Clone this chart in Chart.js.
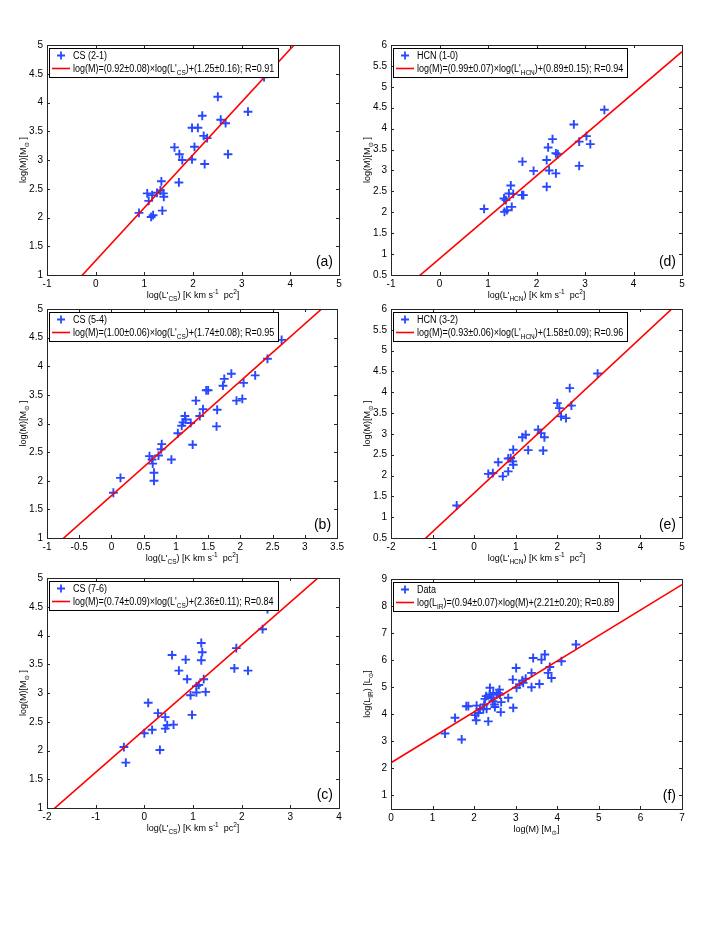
<!DOCTYPE html>
<html>
<head>
<meta charset="utf-8">
<title>Mass correlations</title>
<script src="https://cdn.jsdelivr.net/npm/chart.js@4.4.0/dist/chart.umd.min.js"></script>
<style>
  body { margin: 0; background: #ffffff; }
  #page { position: relative; width: 723px; height: 935px; overflow: hidden; background: #ffffff; }
  canvas { position: absolute; }
</style>
</head>
<body>
<div id="page"></div>
<script>
// ---- data ----

// (a) CS (2-1)
const cs21X = [0.89, 1.06, 1.09, 1.16, 1.14, 1.18, 1.26, 1.33, 1.35, 1.39, 1.40, 1.37, 1.71, 1.62, 1.72, 1.78, 1.98, 2.03, 1.98, 2.10, 2.19, 2.22, 2.29, 2.24, 2.51, 2.57, 2.67, 2.72, 3.13, 3.46];
const cs21Y = [2.08, 2.42, 2.29, 2.39, 2.01, 2.04, 2.43, 2.47, 2.63, 2.42, 2.36, 2.12, 2.61, 3.22, 3.10, 3.00, 3.01, 3.23, 3.56, 3.56, 3.77, 3.42, 3.38, 2.93, 4.10, 3.70, 3.64, 3.10, 3.84, 4.44];

// (d) HCN (1-0)
const hcn10X = [0.92, 1.33, 1.37, 1.34, 1.39, 1.43, 1.47, 1.49, 1.52, 1.70, 1.73, 1.71, 1.94, 2.21, 2.21, 2.24, 2.26, 2.33, 2.40, 2.44, 2.40, 2.77, 2.88, 2.88, 3.03, 3.11, 3.40];
const hcn10Y = [2.08, 2.33, 2.29, 2.01, 2.05, 2.45, 2.64, 2.13, 2.44, 2.41, 2.41, 3.21, 2.99, 2.61, 3.25, 3.55, 3.00, 3.75, 3.41, 3.39, 2.93, 4.10, 3.69, 3.11, 3.82, 3.63, 4.45];

// (b) CS (5-4)
const cs54X = [0.03, 0.14, 0.59, 0.63, 0.64, 0.66, 0.66, 0.73, 0.77, 0.78, 0.93, 1.03, 1.09, 1.11, 1.14, 1.15, 1.23, 1.26, 1.31, 1.37, 1.42, 1.47, 1.50, 1.64, 1.63, 1.73, 1.75, 1.86, 1.94, 2.03, 2.05, 2.23, 2.42, 2.64];
const cs54Y = [1.79, 2.05, 2.43, 2.37, 2.30, 2.14, 2.00, 2.44, 2.55, 2.64, 2.37, 2.83, 2.96, 3.02, 3.13, 3.07, 3.01, 2.63, 3.40, 3.13, 3.25, 3.58, 3.58, 3.24, 2.95, 3.66, 3.78, 3.87, 3.40, 3.43, 3.71, 3.84, 4.13, 4.46];

// (e) HCN (3-2)
const hcn32X = [-0.42, 0.34, 0.45, 0.58, 0.69, 0.82, 0.82, 0.88, 0.93, 0.94, 0.94, 1.16, 1.24, 1.30, 1.54, 1.61, 1.69, 1.66, 2.00, 2.05, 2.09, 2.21, 2.30, 2.34, 2.97];
const hcn32Y = [1.28, 2.04, 2.06, 2.32, 1.98, 2.10, 2.41, 2.42, 2.34, 2.26, 2.62, 2.92, 2.98, 2.61, 3.10, 3.02, 2.92, 2.60, 3.74, 3.62, 3.42, 3.38, 4.10, 3.68, 4.45];

// (c) CS (7-6)
const cs76X = [-0.42, -0.38, 0.00, 0.08, 0.16, 0.28, 0.32, 0.43, 0.43, 0.47, 0.60, 0.57, 0.71, 0.85, 0.88, 0.95, 0.98, 1.07, 1.07, 1.12, 1.17, 1.19, 1.17, 1.22, 1.26, 1.85, 1.89, 2.13, 2.43, 2.53];
const cs76Y = [2.06, 1.79, 2.30, 2.83, 2.36, 2.65, 2.01, 2.58, 2.38, 2.44, 2.45, 3.66, 3.39, 3.58, 3.24, 2.96, 2.62, 3.12, 3.01, 3.14, 3.87, 3.71, 3.57, 3.24, 3.02, 3.43, 3.78, 3.39, 4.11, 4.46];

// (f) mass vs infrared luminosity
const massX = [1.30, 1.70, 1.54, 1.81, 1.86, 2.02, 2.05, 2.06, 2.10, 2.14, 2.22, 2.24, 2.26, 2.30, 2.29, 2.34, 2.37, 2.38, 2.41, 2.45, 2.46, 2.49, 2.50, 2.54, 2.58, 2.61, 2.62, 2.65, 2.64, 2.82, 2.94, 2.93, 3.01, 3.02, 3.09, 3.16, 3.18, 3.24, 3.38, 3.38, 3.42, 3.57, 3.62, 3.70, 3.78, 3.82, 3.86, 4.10, 4.45];
const lirY  = [3.29, 3.07, 3.87, 4.30, 4.30, 3.97, 3.78, 4.32, 4.05, 4.20, 4.18, 4.36, 4.57, 4.20, 4.67, 3.74, 4.73, 4.98, 4.61, 4.48, 4.79, 4.36, 4.27, 4.73, 4.79, 4.91, 4.73, 4.45, 4.08, 4.61, 4.24, 5.28, 5.71, 4.98, 5.10, 5.25, 5.16, 5.32, 5.00, 5.53, 6.08, 5.12, 6.02, 6.21, 5.53, 5.75, 5.34, 5.96, 6.58];

// fit lines, in panel order a, d, b, e, c, f
const fitSlopes     = [0.92, 0.99, 1.00, 0.93, 0.74, 0.94];
const fitIntercepts = [1.25, 0.89, 1.74, 1.58, 2.36, 2.21];

// tick labels
const ticksA_x = [-1, 0, 1, 2, 3, 4, 5];
const ticksA_y = [1, 1.5, 2, 2.5, 3, 3.5, 4, 4.5, 5];
const ticksD_x = [-1, 0, 1, 2, 3, 4, 5];
const ticksD_y = [0.5, 1, 1.5, 2, 2.5, 3, 3.5, 4, 4.5, 5, 5.5, 6];
const ticksB_x = [-1, -0.5, 0, 0.5, 1, 1.5, 2, 2.5, 3, 3.5];
const ticksB_y = [1, 1.5, 2, 2.5, 3, 3.5, 4, 4.5, 5];
const ticksE_x = [-2, -1, 0, 1, 2, 3, 4, 5];
const ticksE_y = [0.5, 1, 1.5, 2, 2.5, 3, 3.5, 4, 4.5, 5, 5.5, 6];
const ticksC_x = [-2, -1, 0, 1, 2, 3, 4];
const ticksC_y = [1, 1.5, 2, 2.5, 3, 3.5, 4, 4.5, 5];
const ticksF_x = [0, 1, 2, 3, 4, 5, 6, 7];
const ticksF_y = [1, 2, 3, 4, 5, 6, 7, 8, 9];

// ---- styling ----
const FONT = '"Liberation Sans", Arial, "DejaVu Sans", sans-serif';
const BLUE = 'rgb(40, 72, 255)';
const RED = '#ff0000';
const SUN = '\u2299';

// axis labels / legend texts as [text, mode] parts (n = normal, sub, sup)
const xLabCS  = [['log(L\'', 'n'], ['CS', 'sub'], [') [K km s', 'n'], ['-1', 'sup'], ['  pc', 'n'], ['2', 'sup'], [']', 'n']];
const xLabHCN = [['log(L\'', 'n'], ['HCN', 'sub'], [') [K km s', 'n'], ['-1', 'sup'], ['  pc', 'n'], ['2', 'sup'], [']', 'n']];
const yLabM   = [['log(M)[M', 'n'], [SUN, 'sub'], [' ]', 'n']];

const panels = [
  { tag: '(a)', box: [47, 45, 339, 275], xr: [-1, 5], yr: [1, 5], xs: cs21X, ys: cs21Y, xt: ticksA_x, yt: ticksA_y,
    name: 'CS (2-1)', xLab: xLabCS, yLab: yLabM,
    fit: [['log(M)=(0.92\u00b10.08)\u00d7log(L\'', 'n'], ['CS', 'sub'], [')+(1.25\u00b10.16); R=0.91', 'n']] },
  { tag: '(d)', box: [391, 45, 682, 275], xr: [-1, 5], yr: [0.5, 6], xs: hcn10X, ys: hcn10Y, xt: ticksD_x, yt: ticksD_y,
    name: 'HCN (1-0)', xLab: xLabHCN, yLab: yLabM,
    fit: [['log(M)=(0.99\u00b10.07)\u00d7log(L\'', 'n'], ['HCN', 'sub'], [')+(0.89\u00b10.15); R=0.94', 'n']] },
  { tag: '(b)', box: [47, 309, 339, 538], xr: [-1, 3.5], yr: [1, 5], xs: cs54X, ys: cs54Y, xt: ticksB_x, yt: ticksB_y,
    name: 'CS (5-4)', xLab: xLabCS, yLab: yLabM,
    fit: [['log(M)=(1.00\u00b10.06)\u00d7log(L\'', 'n'], ['CS', 'sub'], [')+(1.74\u00b10.08); R=0.95', 'n']] },
  { tag: '(e)', box: [391, 309, 682, 538], xr: [-2, 5], yr: [0.5, 6], xs: hcn32X, ys: hcn32Y, xt: ticksE_x, yt: ticksE_y,
    name: 'HCN (3-2)', xLab: xLabHCN, yLab: yLabM,
    fit: [['log(M)=(0.93\u00b10.06)\u00d7log(L\'', 'n'], ['HCN', 'sub'], [')+(1.58\u00b10.09); R=0.96', 'n']] },
  { tag: '(c)', box: [47, 578, 339, 808], xr: [-2, 4], yr: [1, 5], xs: cs76X, ys: cs76Y, xt: ticksC_x, yt: ticksC_y,
    name: 'CS (7-6)', xLab: xLabCS, yLab: yLabM,
    fit: [['log(M)=(0.74\u00b10.09)\u00d7log(L\'', 'n'], ['CS', 'sub'], [')+(2.36\u00b10.11); R=0.84', 'n']] },
  { tag: '(f)', box: [391, 579, 682, 809], xr: [0, 7], yr: [0.5, 9], xs: massX, ys: lirY, xt: ticksF_x, yt: ticksF_y,
    name: 'Data', xLab: [['log(M) [M', 'n'], [SUN, 'sub'], [']', 'n']],
    yLab: [['log(L', 'n'], ['IR', 'sub'], [') [L', 'n'], [SUN, 'sub'], [']', 'n']],
    fit: [['log(L', 'n'], ['IR', 'sub'], [')=(0.94\u00b10.07)\u00d7log(M)+(2.21\u00b10.20); R=0.89', 'n']] }
];

// ---- rich text helpers (sub/superscripts) ----
function partSize(mode, size) {
  return mode === 'n' ? size : size * 0.72;
}

function richWidth(ctx, parts, size) {
  let w = 0;
  parts.forEach(([t, m]) => {
    ctx.font = `${partSize(m, size)}px ${FONT}`;
    w += ctx.measureText(t).width;
  });
  return w;
}

// draws parts with baseline at y; align 'left' or 'center'; sx squeezes horizontally
function drawRich(ctx, parts, x, y, size, align, sx = 1) {
  const w = richWidth(ctx, parts, size);
  ctx.save();
  ctx.translate(align === 'center' ? x - w * sx / 2 : x, y);
  ctx.scale(sx, 1);
  ctx.textAlign = 'left';
  ctx.textBaseline = 'alphabetic';
  let cx = 0;
  parts.forEach(([t, m]) => {
    ctx.font = `${partSize(m, size)}px ${FONT}`;
    const dy = m === 'sub' ? size * 0.32 : (m === 'sup' ? -size * 0.42 : 0);
    ctx.fillText(t, cx, dy);
    cx += ctx.measureText(t).width;
  });
  ctx.restore();
  return w * sx;
}

// ---- matlab-like frame, legend, labels ----
const matlabDecor = {
  id: 'matlabDecor',
  afterDraw(chart, args, opts) {
    const p = opts.panel;
    const ctx = chart.ctx;
    const a = chart.chartArea;
    const xs = chart.scales.x;
    const ys = chart.scales.y;

    ctx.save();

    // inward ticks on all four sides
    ctx.strokeStyle = '#262626';
    ctx.lineWidth = 1;
    ctx.beginPath();
    p.xt.forEach(v => {
      const px = Math.round(xs.getPixelForValue(v)) + 0.5;
      ctx.moveTo(px, a.bottom); ctx.lineTo(px, a.bottom - 3);
      ctx.moveTo(px, a.top); ctx.lineTo(px, a.top + 3);
    });
    p.yt.forEach(v => {
      const py = Math.round(ys.getPixelForValue(v)) + 0.5;
      ctx.moveTo(a.left, py); ctx.lineTo(a.left + 3, py);
      ctx.moveTo(a.right, py); ctx.lineTo(a.right - 3, py);
    });
    ctx.stroke();
    ctx.strokeRect(Math.round(a.left) + 0.5, Math.round(a.top) + 0.5,
      Math.round(a.right - a.left), Math.round(a.bottom - a.top));

    // legend box
    const fs = 10;
    const sq = 0.9;
    const tw = Math.max(richWidth(ctx, [[p.name, 'n']], fs), richWidth(ctx, p.fit, fs)) * sq;
    const lx = Math.round(a.left) + 2;
    const ly = Math.round(a.top) + 3;
    const lw = Math.round(24 + tw + 4);
    const lh = 29;
    ctx.fillStyle = '#ffffff';
    ctx.fillRect(lx, ly, lw, lh);
    ctx.strokeStyle = '#000000';
    ctx.lineWidth = 1;
    ctx.strokeRect(lx + 0.5, ly + 0.5, lw, lh);

    // legend marker (+)
    ctx.strokeStyle = BLUE;
    ctx.lineWidth = 1.8;
    ctx.beginPath();
    ctx.moveTo(lx + 8, ly + 7.5); ctx.lineTo(lx + 16, ly + 7.5);
    ctx.moveTo(lx + 12, ly + 3.5); ctx.lineTo(lx + 12, ly + 11.5);
    ctx.stroke();

    // legend line
    ctx.strokeStyle = RED;
    ctx.lineWidth = 1.6;
    ctx.beginPath();
    ctx.moveTo(lx + 3, ly + 20.5); ctx.lineTo(lx + 21, ly + 20.5);
    ctx.stroke();

    ctx.fillStyle = '#000000';
    drawRich(ctx, [[p.name, 'n']], lx + 24, ly + 7.5 + fs * 0.36, fs, 'left', sq);
    drawRich(ctx, p.fit, lx + 24, ly + 20.5 + fs * 0.36, fs, 'left', sq);

    // panel tag
    ctx.font = `14px ${FONT}`;
    ctx.textAlign = 'right';
    ctx.textBaseline = 'middle';
    ctx.fillText(p.tag, a.right - 6, a.bottom - 13);

    // axis titles
    const ts = 9;
    drawRich(ctx, p.xLab, (a.left + a.right) / 2, a.bottom + 23, ts, 'center');
    ctx.save();
    ctx.translate(a.left - 24, (a.top + a.bottom) / 2);
    ctx.rotate(-Math.PI / 2);
    drawRich(ctx, p.yLab, 0, ts * 0.35, ts, 'center');
    ctx.restore();

    ctx.restore();
  }
};

// ---- build the six panels ----
const page = document.getElementById('page');
const padL = 47, padT = 10, padR = 8, padB = 35;

function tickAxis(range, ticks, fitSize) {
  return {
    type: 'linear',
    min: range[0],
    max: range[1],
    afterBuildTicks: s => { s.ticks = ticks.map(v => ({ value: v })); },
    afterFit: fitSize,
    grid: { display: false, drawTicks: false },
    border: { display: false },
    ticks: {
      font: { family: FONT, size: 10 },
      color: '#000000',
      maxRotation: 0,
      autoSkip: false,
      callback: v => String(v)
    }
  };
}

panels.forEach((p, i) => {
  const w = p.box[2] - p.box[0] + padL + padR;
  const h = p.box[3] - p.box[1] + padT + padB;
  const cv = document.createElement('canvas');
  cv.width = w;
  cv.height = h;
  cv.style.left = (p.box[0] - padL) + 'px';
  cv.style.top = (p.box[1] - padT) + 'px';
  cv.style.width = w + 'px';
  cv.style.height = h + 'px';
  page.appendChild(cv);

  const slope = fitSlopes[i];
  const icpt = fitIntercepts[i];

  const xAxis = tickAxis(p.xr, p.xt, s => { s.height = padB; });
  xAxis.ticks.padding = 3;
  const yAxis = tickAxis(p.yr, p.yt, s => { s.width = padL; });
  yAxis.ticks.padding = 4;

  new Chart(cv.getContext('2d'), {
    type: 'scatter',
    data: {
      datasets: [
        {
          label: p.name,
          data: p.xs.map((x, k) => ({ x: x, y: p.ys[k] })),
          pointStyle: 'cross',
          pointRadius: 4.4,
          pointBorderWidth: 1.9,
          borderColor: BLUE,
          backgroundColor: BLUE,
          clip: 0,
          order: 1
        },
        {
          type: 'line',
          label: 'fit',
          data: p.xr.map(x => ({ x: x, y: slope * x + icpt })),
          borderColor: RED,
          borderWidth: 1.6,
          pointRadius: 0,
          showLine: true,
          fill: false,
          clip: 0,
          order: 0
        }
      ]
    },
    options: {
      responsive: false,
      animation: false,
      events: [],
      layout: { autoPadding: false, padding: { left: 0, top: padT, right: padR, bottom: 0 } },
      scales: { x: xAxis, y: yAxis },
      plugins: {
        legend: { display: false },
        tooltip: { enabled: false },
        matlabDecor: { panel: p }
      }
    },
    plugins: [matlabDecor]
  });
});
</script>
</body>
</html>
